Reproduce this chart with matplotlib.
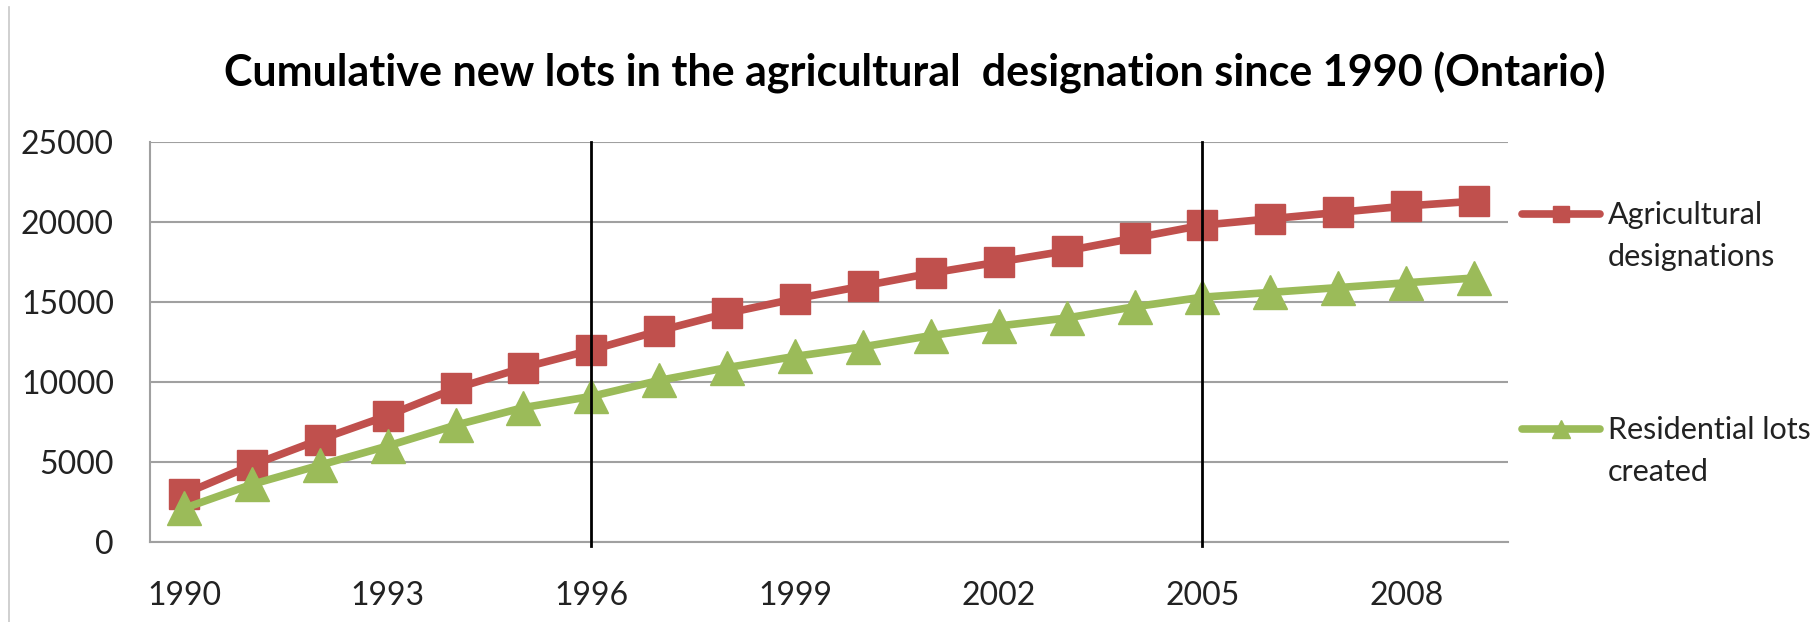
import matplotlib
matplotlib.use("Agg")
import matplotlib.pyplot as plt
from matplotlib.lines import Line2D

plt.rcParams['font.family'] = ['Lato', 'DejaVu Sans']

years = list(range(1990, 2010))
agricultural = [3000, 4800, 6400, 7900, 9600, 10900, 12000, 13200, 14300, 15200,
                16000, 16800, 17500, 18200, 19000, 19800, 20200, 20600, 21000, 21300]
residential = [2100, 3600, 4800, 6000, 7300, 8400, 9100, 10100, 10900, 11600,
               12200, 12900, 13500, 14000, 14700, 15300, 15600, 15900, 16200, 16500]
marked_years = [1996, 2005]
series_labels = ["Agricultural\ndesignations", "Residential lots\ncreated"]
title = "Cumulative new lots in the agricultural  designation since 1990 (Ontario)"

W, H = 1819, 622
fig = plt.figure(figsize=(W / 100, H / 100), dpi=100)
ax = fig.add_axes([150 / W, 1 - 542 / H, (1508 - 150) / W, (542 - 142) / H])

red = "#C0504D"
green = "#9BBB59"
grid_c = "#A0A0A0"
text_c = "#222222"

x = list(range(len(years)))
ax.plot(x, agricultural, color=red, lw=5.5, marker='s', ms=21, zorder=3)
ax.plot(x, residential, color=green, lw=5.5, marker='^', ms=24, zorder=3)

for yr in marked_years:
    ax.axvline(years.index(yr), ymin=-0.01, ymax=1, color='black', lw=2,
               zorder=4, clip_on=False)

ax.set_xlim(-0.5, len(years) - 0.5)
ax.set_ylim(0, 25000)
ax.set_yticks(range(0, 25001, 5000))
ax.set_yticklabels([str(v) for v in range(0, 25001, 5000)])
ax.set_xticks(x[::3])
ax.set_xticklabels([str(y) for y in years[::3]])
ax.tick_params(axis='both', length=0, labelsize=23, colors=text_c)
ax.tick_params(axis='y', pad=26)
ax.tick_params(axis='x', pad=28)
ax.yaxis.grid(True, color=grid_c, lw=1.5)
ax.set_axisbelow(True)
for s in ['top', 'right']:
    ax.spines[s].set_visible(False)
ax.spines['left'].set_color(grid_c)
ax.spines['left'].set_linewidth(1.5)
ax.spines['bottom'].set_color(grid_c)
ax.spines['bottom'].set_linewidth(1.5)

fig.text(915 / W, 1 - 73 / H, title, ha='center', va='center',
         fontsize=31, fontweight='bold', color='black')

# legend drawn to the right, handle level with first text line
leg_rows = [(214, red, 's', 12), (429, green, '^', 13)]
for (ypix, col, mk, ms), lab in zip(leg_rows, series_labels):
    yf = 1 - ypix / H
    fig.add_artist(Line2D([1522 / W, 1600 / W], [yf, yf], color=col, lw=5.5,
                          solid_capstyle='round', transform=fig.transFigure))
    fig.add_artist(Line2D([1561 / W], [yf], color=col, marker=mk, ms=ms,
                          transform=fig.transFigure))
    fig.text(1608 / W, yf + 13 / H, lab, ha='left', va='top', fontsize=22,
             color=text_c, linespacing=1.6)

# chart border on the left
fig.add_artist(Line2D([9 / W, 9 / W], [0, 1 - 7 / H], color="#C8C8C8", lw=1.2,
                      transform=fig.transFigure))

fig.savefig("out.png", dpi=100)
